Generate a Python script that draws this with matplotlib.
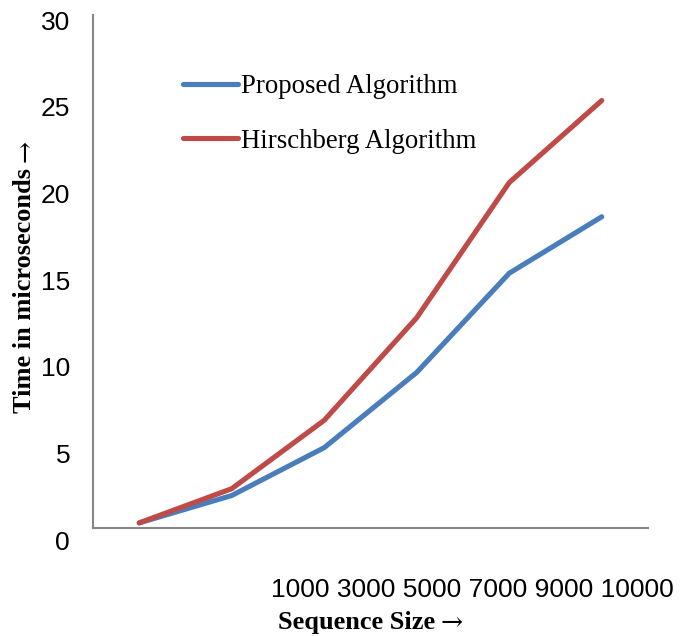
import matplotlib
matplotlib.use("Agg")
import matplotlib.pyplot as plt
import matplotlib.transforms as mtransforms

categories = ["1000", "3000", "5000", "7000", "9000", "10000"]
proposed = [0.3, 1.9, 4.7, 9.1, 14.9, 18.2]
hirschberg = [0.3, 2.3, 6.3, 12.3, 20.2, 25.0]
y_ticks = [0, 5, 10, 15, 20, 25, 30]

BLUE = "#4A7EBB"
RED = "#BE4B48"
GRAY = "#868686"
SANS = ["Liberation Sans", "DejaVu Sans"]
SERIF = ["Liberation Serif", "DejaVu Serif"]

fig = plt.figure(figsize=(6.9, 6.36), dpi=100)
ax = fig.add_axes([93/690, 1-528/636, (648-93)/690, (528-15)/636])

x = list(range(len(categories)))
ax.plot(x, proposed, color=BLUE, lw=3.7, solid_capstyle="round", solid_joinstyle="miter", label="Proposed Algorithm")
ax.plot(x, hirschberg, color=RED, lw=3.7, solid_capstyle="round", solid_joinstyle="miter", label="Hirschberg Algorithm")

ax.set_xlim(-0.5, len(categories) - 0.5)
ax.set_ylim(0, 30)
ax.set_yticks(y_ticks)
ax.set_yticklabels([str(v) for v in y_ticks], fontsize=19, family=SANS)
ax.tick_params(axis="y", length=0, pad=16.5)
ax.set_xticks([])
for v, lab in zip(y_ticks, ax.get_yticklabels()):
    off = mtransforms.ScaledTranslation(0, -(12 - 7 * v / 30) / 100, fig.dpi_scale_trans)
    lab.set_transform(lab.get_transform() + off)

for s in ["top", "right"]:
    ax.spines[s].set_visible(False)
for s in ["left", "bottom"]:
    ax.spines[s].set_color(GRAY)
    ax.spines[s].set_linewidth(1.5)

fig.text(472/690, 1-590/636, " ".join(categories), ha="center", va="center",
         fontsize=19, family=SANS)

xl = fig.text(278/690, 1-622/636, "Sequence Size", ha="left", va="center",
              fontsize=19, fontweight="bold", family=SERIF)
ax.annotate("\u2192", xy=(1, 0.5), xycoords=xl, xytext=(4, 0), textcoords="offset points",
            ha="left", va="center", fontsize=19, family=["DejaVu Serif"], annotation_clip=False)

yl = fig.text(25/690, 1-413/636, "Time in microseconds", ha="center", va="bottom",
              rotation=90, fontsize=19, fontweight="bold", family=SERIF)
ax.annotate("\u2192", xy=(0.5, 1), xycoords=yl, xytext=(0, 4), textcoords="offset points",
            ha="center", va="bottom", rotation=90, fontsize=19, family=["DejaVu Serif"],
            annotation_clip=False)

leg = ax.legend(loc="upper left", bbox_to_anchor=(159/690, 1-50/636), bbox_transform=fig.transFigure,
                frameon=False, handlelength=2.05, handletextpad=0.12, labelspacing=1.1,
                prop={"family": SERIF, "size": 19.3})
for h in leg.get_lines():
    h.set_linewidth(3.7)

fig.savefig("out.png", dpi=100)
